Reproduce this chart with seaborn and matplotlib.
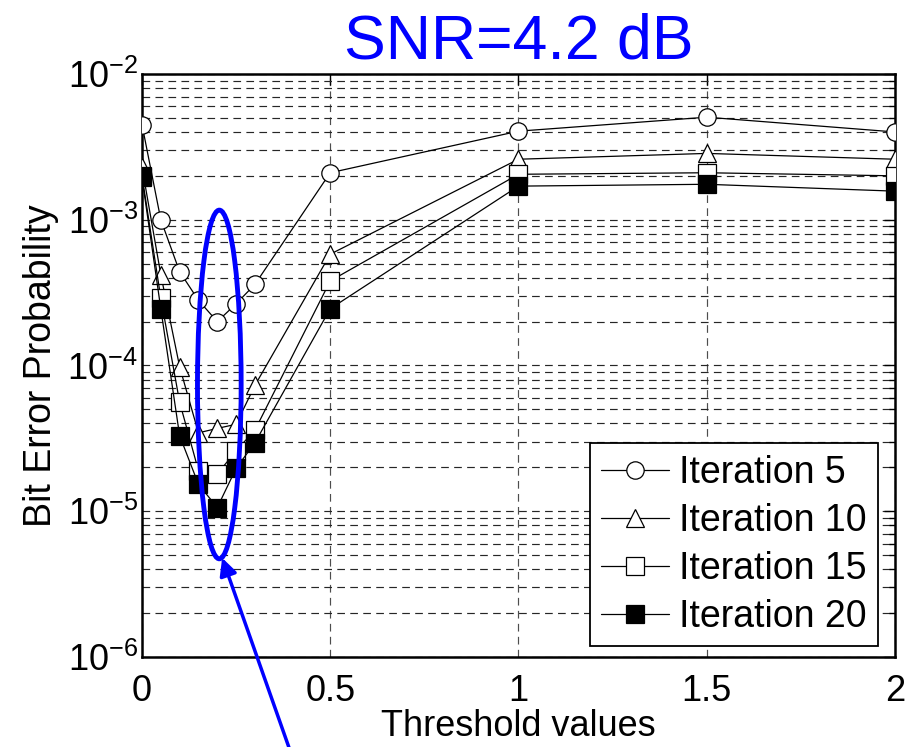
import numpy as np
import matplotlib
matplotlib.use("Agg")
import matplotlib.pyplot as plt
from matplotlib.patches import Ellipse
from matplotlib.ticker import LogLocator, FixedLocator, NullFormatter
import seaborn as sns

# data
thresholds = [0, 0.05, 0.1, 0.15, 0.2, 0.25, 0.3, 0.5, 1, 1.5, 2]
iter5 = [4.5e-3, 1.0e-3, 4.4e-4, 2.8e-4, 2.0e-4, 2.65e-4, 3.6e-4, 2.1e-3, 4.05e-3, 5.05e-3, 4.0e-3]
iter10 = [2.3e-3, 4.2e-4, 9.8e-5, 3.45e-5, 3.7e-5, 3.95e-5, 7.3e-5, 5.8e-4, 2.6e-3, 2.85e-3, 2.6e-3]
iter15 = [2.0e-3, 2.9e-4, 5.6e-5, 1.9e-5, 1.8e-5, 2.6e-5, 3.6e-5, 3.8e-4, 2.05e-3, 2.1e-3, 2.0e-3]
iter20 = [1.95e-3, 2.45e-4, 3.3e-5, 1.53e-5, 1.06e-5, 1.97e-5, 2.95e-5, 2.45e-4, 1.7e-3, 1.75e-3, 1.57e-3]
series_labels = ["Iteration 5", "Iteration 10", "Iteration 15", "Iteration 20"]
xtick_values = [0, 0.5, 1, 1.5, 2]
xtick_labels = ["0", "0.5", "1", "1.5", "2"]
ytick_values = [1e-6, 1e-5, 1e-4, 1e-3, 1e-2]
ytick_labels = [r"$10^{-6}$", r"$10^{-5}$", r"$10^{-4}$", r"$10^{-3}$", r"$10^{-2}$"]

sns.set_style("white")
plt.rcParams['font.family'] = ['Liberation Sans', 'DejaVu Sans']
plt.rcParams['mathtext.fontset'] = 'custom'
plt.rcParams['mathtext.rm'] = 'Liberation Sans'
plt.rcParams['mathtext.it'] = 'Liberation Sans'
for key in ['text.color', 'axes.labelcolor', 'xtick.color', 'ytick.color']:
    plt.rcParams[key] = 'black'

fig = plt.figure(figsize=(9.16, 7.47), dpi=100)
ax = fig.add_axes([0.155, 0.1205, 0.822, 0.7805])

styles = [
    dict(marker='o', markerfacecolor='white'),
    dict(marker='^', markerfacecolor='white'),
    dict(marker='s', markerfacecolor='white'),
    dict(marker='s', markerfacecolor='black'),
]
for vals, lab, st in zip([iter5, iter10, iter15, iter20], series_labels, styles):
    sns.lineplot(x=thresholds, y=vals, ax=ax, color='black', lw=0.9,
                 markersize=12.5, markeredgecolor='black', markeredgewidth=0.9,
                 label=lab, zorder=3, **st)

ax.set_yscale('log')
ax.set_xlim(0, 2)
ax.set_ylim(1e-6, 1e-2)

ax.xaxis.set_major_locator(FixedLocator(xtick_values))
ax.set_xticklabels(xtick_labels)
ax.yaxis.set_major_locator(FixedLocator(ytick_values))
ax.set_yticklabels(ytick_labels)
ax.yaxis.set_minor_locator(LogLocator(base=10, subs=np.arange(2, 10)))
ax.yaxis.set_minor_formatter(NullFormatter())

ax.tick_params(axis='both', which='both', direction='in', top=True, right=True,
               labelsize=26, color='black', labelcolor='black', width=1.0)
ax.tick_params(axis='x', which='major', length=8, pad=12)
ax.tick_params(axis='y', which='major', length=8, pad=3)
ax.tick_params(axis='y', which='minor', length=4)

ax.grid(True, which='major', axis='x', color='0.3', linestyle=(0, (6.5, 4.5)), lw=0.85)
ax.grid(True, which='both', axis='y', color='0.15', linestyle=(0, (6.5, 4.5)), lw=0.85)

for sp in ax.spines.values():
    sp.set_color('black')
    sp.set_linewidth(1.8)

ax.set_xlabel("Threshold values", fontsize=26, labelpad=0)
ax.set_ylabel("Bit Error Probability", fontsize=27, labelpad=6)
ax.set_title("SNR=4.2 dB", fontsize=45, color='blue', pad=11)

leg = ax.legend(loc='lower right', bbox_to_anchor=(0.9774, 0.0189),
                fontsize=27, frameon=True, fancybox=False,
                edgecolor='black', framealpha=1, handlelength=1.8,
                borderaxespad=0, labelspacing=0.32, handletextpad=0.27,
                borderpad=0.3)
leg.get_frame().set_linewidth(1.3)

# highlight ellipse and arrow
ell = Ellipse((0.1027, 0.4674), 0.058, 0.598, transform=ax.transAxes,
              fill=False, edgecolor='blue', lw=3.5, zorder=5, clip_on=False)
ax.add_patch(ell)
ax.annotate('', xy=(0.1065, 0.17), xycoords='axes fraction',
            xytext=(0.1965, -0.16), textcoords='axes fraction',
            arrowprops=dict(arrowstyle='-|>', color='blue', lw=2.5, mutation_scale=26,
                            shrinkA=0, shrinkB=0),
            annotation_clip=False, zorder=6)

fig.savefig("out.png", dpi=100)
